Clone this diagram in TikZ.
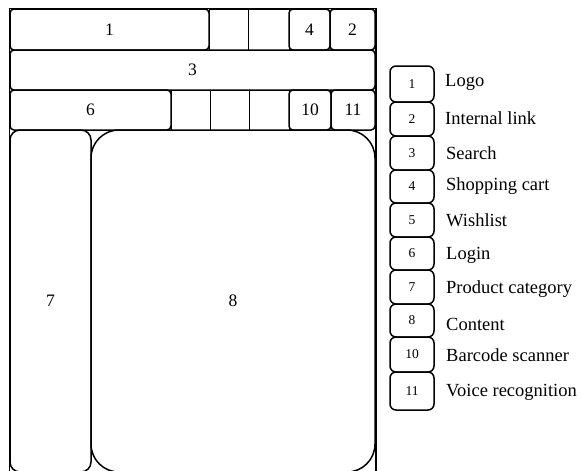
\documentclass[tikz,border=0pt]{standalone}
\usepackage{fontspec}
\setmainfont{Liberation Serif}
\usetikzlibrary{positioning}

\begin{document}
\begin{tikzpicture}[
  x=1pt, y=-1pt,
  every node/.style={font=\fontsize{17.5}{19}\selectfont, inner sep=0pt},
  area/.style={draw, line width=1.5pt, rounded corners=4pt},
  cell/.style={draw, line width=1pt},
  keybox/.style={draw, line width=1.5pt, rounded corners=6pt,
                 minimum width=44pt, font=\fontsize{13.5}{15}\selectfont},
  keytext/.style={anchor=west, font=\fontsize{18.5}{20}\selectfont}
]
\useasboundingbox (0,0) rectangle (582,471);
% outer frame
\draw[line width=1.5pt] (9.5,490) -- (9.5,8.5) -- (376,8.5) -- (376,490);
% header rows
\node[area, minimum width=199pt, minimum height=41pt] (logo) at (109.5,29.5) {1};
\node[cell, minimum width=39pt, minimum height=41pt] (hcella) at (228.5,29.5) {};
\node[cell, minimum width=41pt, minimum height=41pt] (hcellb) at (268.5,29.5) {};
\node[area, minimum width=41pt, minimum height=41pt] (cart) at (309.5,29.5) {4};
\node[area, minimum width=45pt, minimum height=41pt] (link) at (352.5,29.5) {2};
\node[area, minimum width=365pt, minimum height=40pt] (search) at (192.5,70) {3};
\node[area, minimum width=161pt, minimum height=40pt] (login) at (90.5,110) {6};
\node[cell, minimum width=39pt, minimum height=40pt] (lcella) at (190.5,110) {};
\node[cell, minimum width=39pt, minimum height=40pt] (lcellb) at (229.5,110) {};
\node[cell, minimum width=40pt, minimum height=40pt] (lcellc) at (269,110) {};
\node[area, minimum width=42pt, minimum height=40pt] (barcode) at (310,110) {10};
\node[area, minimum width=44pt, minimum height=40pt] (voice) at (353,110) {11};
% body
\node[area, rounded corners=10pt, minimum width=81pt, minimum height=342pt] (category) at (50.5,301) {7};
\node[area, rounded corners=28pt, minimum width=284pt, minimum height=342pt] (content) at (233,301) {8};
% legend
\node[keybox, minimum height=36pt] (k1) at (412,84) {1};
\node[keybox, minimum height=34pt] (k2) at (412,119) {2};
\node[keybox, minimum height=34pt] (k3) at (412,153) {3};
\node[keybox, minimum height=33pt] (k4) at (412,186.5) {4};
\node[keybox, minimum height=34pt] (k5) at (412,220) {5};
\node[keybox, minimum height=33pt] (k6) at (412,253.5) {6};
\node[keybox, minimum height=34pt] (k7) at (412,287) {7};
\node[keybox, minimum height=33pt] (k8) at (412,320.5) {8};
\node[keybox, minimum height=35pt] (k10) at (412,354.5) {10};
\node[keybox, minimum height=38pt] (k11) at (412,391) {11};
\node[keytext] (t1) at (445,82) {Logo};
\node[keytext] (t2) at (445,118) {Internal link};
\node[keytext] (t3) at (446,153) {Search};
\node[keytext] (t4) at (446,186) {Shopping cart};
\node[keytext] (t5) at (446,220) {Wishlist};
\node[keytext] (t6) at (446,255) {Login};
\node[keytext] (t7) at (446,289) {Product category};
\node[keytext] (t8) at (446,324) {Content};
\node[keytext] (t10) at (446,355) {Barcode scanner};
\node[keytext] (t11) at (446,392) {Voice recognition};
\end{tikzpicture}
\end{document}
